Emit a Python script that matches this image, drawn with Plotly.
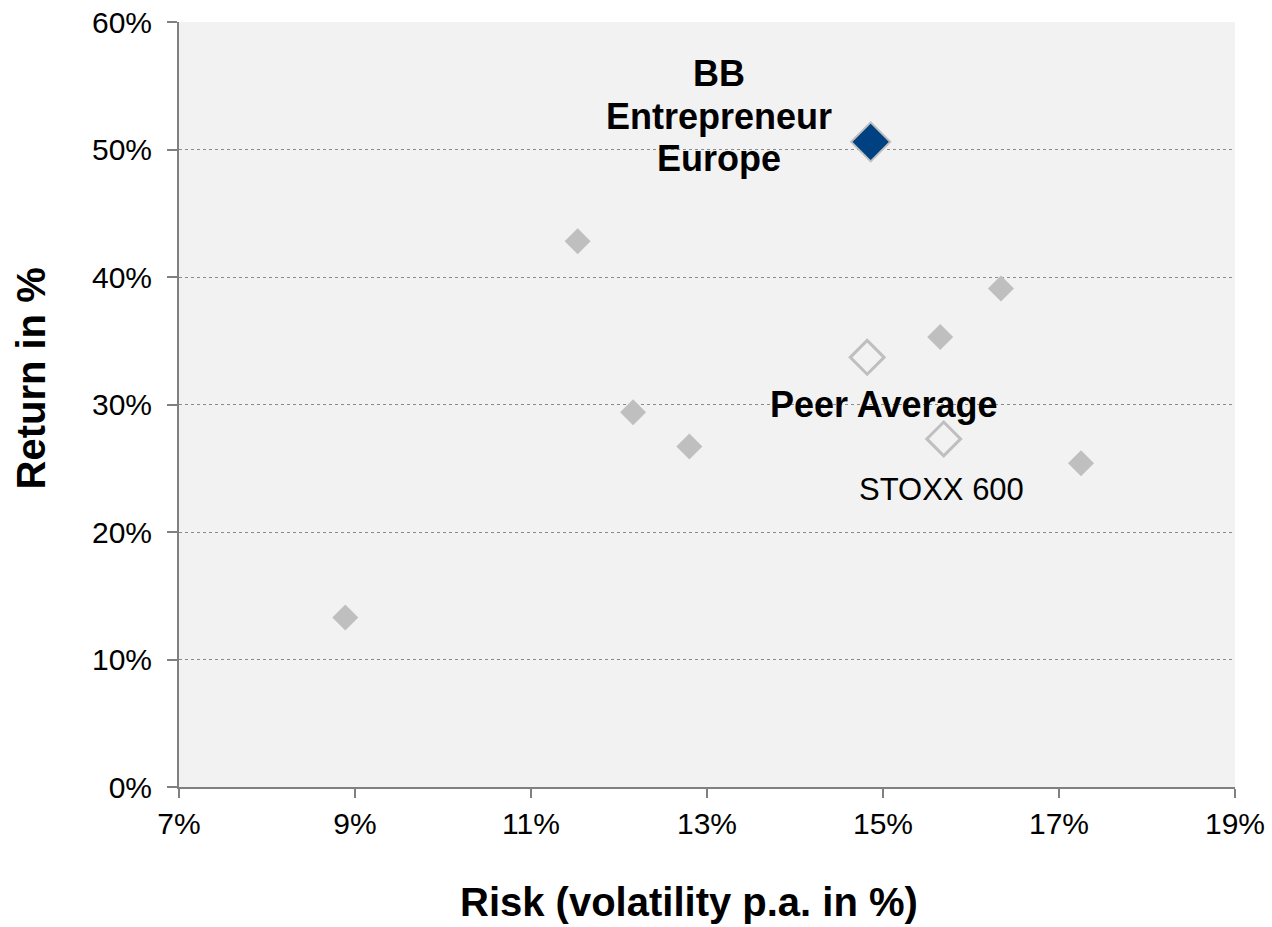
import plotly.graph_objects as go

# Data (risk %, return %)
peer_risk = [8.89, 11.53, 12.16, 12.80, 15.65, 16.34, 17.25]
peer_return = [13.3, 42.8, 29.4, 26.7, 35.3, 39.1, 25.4]
bb_risk = [14.86]
bb_return = [50.6]
avg_risk = [14.82]
avg_return = [33.7]
stoxx_risk = [15.69]
stoxx_return = [27.3]

x_ticks = [7, 9, 11, 13, 15, 17, 19]
y_ticks = [0, 10, 20, 30, 40, 50, 60]

bb_lines = ["BB", "Entrepreneur", "Europe"]

fig = go.Figure()
fig.add_trace(go.Scatter(x=peer_risk, y=peer_return, mode="markers",
                         marker=dict(symbol="diamond", size=20, color="#bfbfbf",
                                     line=dict(width=0)), showlegend=False))
fig.add_trace(go.Scatter(x=avg_risk, y=avg_return, mode="markers",
                         marker=dict(symbol="diamond-open", size=26, color="#bfbfbf",
                                     line=dict(width=3, color="#bfbfbf")), showlegend=False))
fig.add_trace(go.Scatter(x=stoxx_risk, y=stoxx_return, mode="markers",
                         marker=dict(symbol="diamond-open", size=26, color="#bfbfbf",
                                     line=dict(width=3, color="#bfbfbf")), showlegend=False))
fig.add_trace(go.Scatter(x=bb_risk, y=bb_return, mode="markers",
                         marker=dict(symbol="diamond", size=30, color="#004281",
                                     line=dict(width=2, color="#bfbfbf")), showlegend=False))

for i, line in enumerate(bb_lines):
    fig.add_annotation(x=13.14, y=52.6, text=f"<b>{line}</b>", yshift=(1 - i) * 42.5,
                       showarrow=False, font=dict(size=36, color="black"),
                       xanchor="center", yanchor="middle")
fig.add_annotation(x=15.0, y=30.0, text="<b>Peer Average</b>",
                   showarrow=False, font=dict(size=36, color="black"))
fig.add_annotation(x=15.66, y=23.3, text="STOXX 600",
                   showarrow=False, font=dict(size=31, color="black"))

# axis titles
fig.add_annotation(xref="paper", yref="paper", x=0.483, y=0, yshift=-115,
                   text="<b>Risk (volatility p.a. in %)</b>", showarrow=False,
                   font=dict(size=40, color="black"), xanchor="center", yanchor="middle")
fig.add_annotation(xref="paper", yref="paper", x=0, y=0.534, xshift=-148,
                   text="<b>Return in %</b>", textangle=-90, showarrow=False,
                   font=dict(size=40, color="black"), xanchor="center", yanchor="middle")

fig.update_layout(
    width=1272, height=927,
    margin=dict(l=179, r=37, t=22, b=140),
    paper_bgcolor="white", plot_bgcolor="#f2f2f2",
    font=dict(family="Liberation Sans, Arial, sans-serif", color="black"),
)
fig.update_xaxes(range=[7, 19], tickvals=x_ticks, ticktext=[f"{v}%" for v in x_ticks],
                 showgrid=False, zeroline=False, showline=True, linecolor="#808080", linewidth=2,
                 ticks="outside", ticklen=9, tickcolor="#808080", tickwidth=2,
                 tickfont=dict(size=30), ticklabeloverflow="allow", automargin=False)
fig.update_yaxes(range=[0, 60], tickvals=y_ticks, ticktext=[f"{v}%" for v in y_ticks],
                 showgrid=True, gridcolor="#8c8c8c", griddash="dot", gridwidth=1,
                 zeroline=False, showline=True, linecolor="#808080", linewidth=2,
                 ticks="outside", ticklen=10, tickcolor="#808080", tickwidth=2,
                 tickfont=dict(size=30), ticklabeloverflow="allow", ticklabelstandoff=9,
                 automargin=False)

fig.write_html("out.html", config={"displayModeBar": False},
               post_script="document.body.style.margin='0px';")
